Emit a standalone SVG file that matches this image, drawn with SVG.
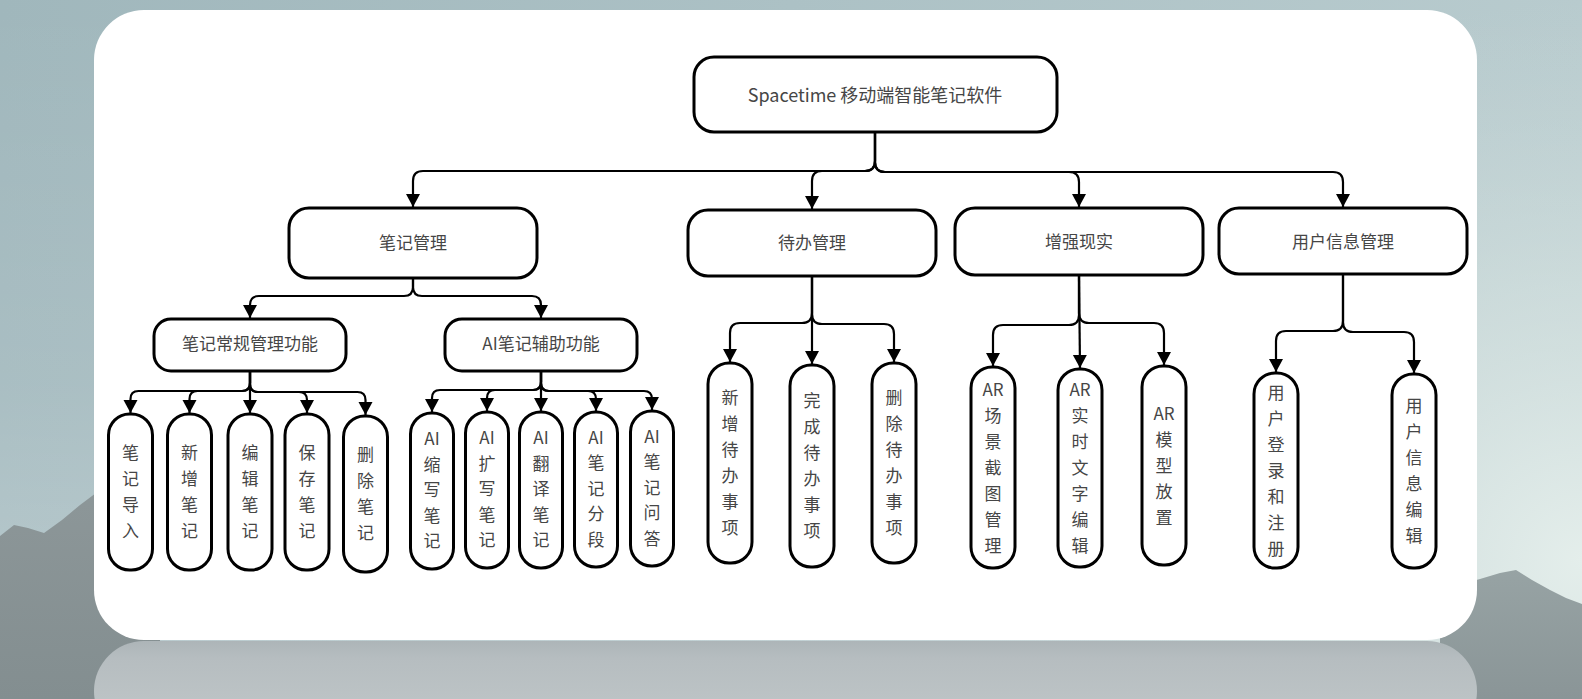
<svg xmlns="http://www.w3.org/2000/svg" width="1582" height="699" viewBox="0 0 1582 699">
<defs>
<linearGradient id="sky" x1="0" y1="0" x2="1582" y2="0" gradientUnits="userSpaceOnUse">
<stop offset="0" stop-color="#a0b7bc"/>
<stop offset="1" stop-color="#b8cbce"/>
</linearGradient>
<linearGradient id="skyV" x1="0" y1="0" x2="0" y2="699" gradientUnits="userSpaceOnUse">
<stop offset="0" stop-color="#ffffff" stop-opacity="0"/>
<stop offset="0.55" stop-color="#ffffff" stop-opacity="0.1"/>
<stop offset="1" stop-color="#ffffff" stop-opacity="0.3"/>
</linearGradient>
<radialGradient id="glow" cx="1582" cy="560" r="560" gradientUnits="userSpaceOnUse">
<stop offset="0" stop-color="#e4eeeb" stop-opacity="1"/>
<stop offset="0.5" stop-color="#d6e3e1" stop-opacity="0.6"/>
<stop offset="1" stop-color="#c8d8d8" stop-opacity="0"/>
</radialGradient>
<linearGradient id="mtnL" x1="0" y1="480" x2="0" y2="699" gradientUnits="userSpaceOnUse">
<stop offset="0" stop-color="#8d9799"/>
<stop offset="1" stop-color="#838e90"/>
</linearGradient>
<linearGradient id="mtnR" x1="0" y1="570" x2="0" y2="699" gradientUnits="userSpaceOnUse">
<stop offset="0" stop-color="#97a3a4"/>
<stop offset="1" stop-color="#8a9597"/>
</linearGradient>
<linearGradient id="refl" x1="0" y1="641" x2="0" y2="699" gradientUnits="userSpaceOnUse">
<stop offset="0" stop-color="#adb5b8"/>
<stop offset="0.3" stop-color="#b6bdc0"/>
<stop offset="1" stop-color="#bcc3c5"/>
</linearGradient>
<marker id="arr" markerUnits="userSpaceOnUse" markerWidth="15" markerHeight="15" viewBox="0 0 15 15" refX="13" refY="7.5" orient="auto">
<path d="M0,0.5 L13,7.5 L0,14.5 z" fill="#000"/>
</marker>
<style>
.box{fill:#fff;stroke:#000;stroke-width:3}
.edge{fill:none;stroke:#000;stroke-width:2.2;marker-end:url(#arr)}
.lbl{font-family:"Noto Sans CJK SC","Noto Sans",sans-serif;font-size:17px;fill:#464646;text-anchor:middle}
.root{font-size:18px}
</style>
</defs>

<g id="background">
<rect x="0" y="0" width="1582" height="699" fill="url(#sky)"/>
<rect x="0" y="0" width="1582" height="699" fill="url(#skyV)"/>
<rect x="0" y="0" width="1582" height="699" fill="url(#glow)"/>
<polygon points="0,536 14,525 28,528 44,533 62,520 80,505 100,490 160,510 160,699 0,699" fill="url(#mtnL)"/>
<polygon points="1440,590 1480,579 1500,573 1516,570 1532,580 1550,590 1566,598 1582,604 1582,699 1440,699" fill="url(#mtnR)"/>
<rect x="94" y="641" width="1383" height="100" rx="50" fill="url(#refl)"/>
<rect x="94" y="10" width="1383" height="630" rx="50" fill="#fff"/>
</g>

<g id="connectors">
<path class="edge" d="M875,132 V161 Q875,171 865,171 H423 Q413,171 413,181 V207"/>
<path class="edge" d="M875,132 V161 Q875,171 865,171 H822 Q812,171 812,181 V209"/>
<path class="edge" d="M875,132 V162 Q875,172 885,172 H1069 Q1079,172 1079,182 V207"/>
<path class="edge" d="M875,132 V162 Q875,172 885,172 H1333 Q1343,172 1343,182 V207"/>

<path class="edge" d="M413,278 V287 Q413,296 404,296 H259 Q250,296 250,305 V318"/>
<path class="edge" d="M413,278 V287 Q413,296 422,296 H532 Q541,296 541,305 V318"/>

<path class="edge" d="M250,371 V383 Q250,391 242,391 H138.5 Q130.5,391 130.5,399 V413"/>
<path class="edge" d="M250,371 V383 Q250,391 242,391 H197.5 Q189.5,391 189.5,399 V413"/>
<path class="edge" d="M250,371 V413"/>
<path class="edge" d="M250,371 V384 Q250,392 258,392 H299 Q307,392 307,400 V413"/>
<path class="edge" d="M250,371 V384 Q250,392 258,392 H357.5 Q365.5,392 365.5,400 V415"/>

<path class="edge" d="M541,371 V382 Q541,390 533,390 H440 Q432,390 432,398 V412"/>
<path class="edge" d="M541,371 V382 Q541,390 533,390 H495 Q487,390 487,398 V411"/>
<path class="edge" d="M541,371 V411"/>
<path class="edge" d="M541,371 V383 Q541,391 549,391 H588 Q596,391 596,399 V411"/>
<path class="edge" d="M541,371 V383 Q541,391 549,391 H644 Q652,391 652,399 V410"/>

<path class="edge" d="M812,276 V313 Q812,323 802,323 H740 Q730,323 730,333 V362"/>
<path class="edge" d="M812,276 V364"/>
<path class="edge" d="M812,276 V314 Q812,324 822,324 H884 Q894,324 894,334 V362"/>

<path class="edge" d="M1079,275 V315 Q1079,325 1069,325 H1003 Q993,325 993,335 V366"/>
<path class="edge" d="M1079,275 L1080,368"/>
<path class="edge" d="M1079,275 V313 Q1079,323 1089,323 H1154 Q1164,323 1164,333 V365"/>

<path class="edge" d="M1343,274 V321 Q1343,331 1333,331 H1286 Q1276,331 1276,341 V372"/>
<path class="edge" d="M1343,274 V322 Q1343,332 1353,332 H1404 Q1414,332 1414,342 V373"/>
</g>

<g id="root">
<rect class="box" x="694" y="57" width="363" height="75" rx="20"/>
<text class="lbl root" x="875" y="101.5">Spacetime 移动端智能笔记软件</text>
</g>

<g id="note-mgmt">
<rect class="box" x="289" y="208" width="248" height="70" rx="20"/>
<text class="lbl" x="413" y="249">笔记管理</text>
</g>
<g id="todo-mgmt">
<rect class="box" x="688" y="210" width="248" height="66" rx="20"/>
<text class="lbl" x="812" y="249">待办管理</text>
</g>
<g id="ar">
<rect class="box" x="955" y="208" width="248" height="67" rx="20"/>
<text class="lbl" x="1079" y="248">增强现实</text>
</g>
<g id="user-mgmt">
<rect class="box" x="1219" y="208" width="248" height="66" rx="20"/>
<text class="lbl" x="1343" y="248">用户信息管理</text>
</g>

<g id="note-basic">
<rect class="box" x="154" y="319" width="192" height="52" rx="17"/>
<text class="lbl" x="250" y="349.5">笔记常规管理功能</text>
</g>
<g id="note-ai">
<rect class="box" x="445" y="319" width="192" height="52" rx="17"/>
<text class="lbl" x="541" y="349.5">AI笔记辅助功能</text>
</g>

<g id="leaf-import">
<rect class="box" x="108.5" y="414" width="44" height="156" rx="21"/>
<text class="lbl" x="130.5" y="459"><tspan x="130.5">笔</tspan><tspan x="130.5" dy="26">记</tspan><tspan x="130.5" dy="26">导</tspan><tspan x="130.5" dy="26">入</tspan></text>
</g>
<g id="leaf-new">
<rect class="box" x="167.5" y="414" width="44" height="156" rx="21"/>
<text class="lbl" x="189.5" y="459"><tspan x="189.5">新</tspan><tspan x="189.5" dy="26">增</tspan><tspan x="189.5" dy="26">笔</tspan><tspan x="189.5" dy="26">记</tspan></text>
</g>
<g id="leaf-edit">
<rect class="box" x="228" y="414" width="44" height="156" rx="21"/>
<text class="lbl" x="250" y="459"><tspan x="250">编</tspan><tspan x="250" dy="26">辑</tspan><tspan x="250" dy="26">笔</tspan><tspan x="250" dy="26">记</tspan></text>
</g>
<g id="leaf-save">
<rect class="box" x="285" y="414" width="44" height="156" rx="21"/>
<text class="lbl" x="307" y="459"><tspan x="307">保</tspan><tspan x="307" dy="26">存</tspan><tspan x="307" dy="26">笔</tspan><tspan x="307" dy="26">记</tspan></text>
</g>
<g id="leaf-delete">
<rect class="box" x="343.5" y="416" width="44" height="156" rx="21"/>
<text class="lbl" x="365.5" y="461"><tspan x="365.5">删</tspan><tspan x="365.5" dy="26">除</tspan><tspan x="365.5" dy="26">笔</tspan><tspan x="365.5" dy="26">记</tspan></text>
</g>

<g id="leaf-ai-shrink">
<rect class="box" x="410.5" y="413" width="43" height="156" rx="21"/>
<text class="lbl" x="432" y="445"><tspan x="432">AI</tspan><tspan x="432" dy="25.5">缩</tspan><tspan x="432" dy="25.5">写</tspan><tspan x="432" dy="25.5">笔</tspan><tspan x="432" dy="25.5">记</tspan></text>
</g>
<g id="leaf-ai-expand">
<rect class="box" x="465.5" y="412" width="43" height="156" rx="21"/>
<text class="lbl" x="487" y="444"><tspan x="487">AI</tspan><tspan x="487" dy="25.5">扩</tspan><tspan x="487" dy="25.5">写</tspan><tspan x="487" dy="25.5">笔</tspan><tspan x="487" dy="25.5">记</tspan></text>
</g>
<g id="leaf-ai-translate">
<rect class="box" x="519.5" y="412" width="43" height="156" rx="21"/>
<text class="lbl" x="541" y="444"><tspan x="541">AI</tspan><tspan x="541" dy="25.5">翻</tspan><tspan x="541" dy="25.5">译</tspan><tspan x="541" dy="25.5">笔</tspan><tspan x="541" dy="25.5">记</tspan></text>
</g>
<g id="leaf-ai-segment">
<rect class="box" x="574.5" y="412" width="43" height="155" rx="21"/>
<text class="lbl" x="596" y="443.5"><tspan x="596">AI</tspan><tspan x="596" dy="25.5">笔</tspan><tspan x="596" dy="25.5">记</tspan><tspan x="596" dy="25.5">分</tspan><tspan x="596" dy="25.5">段</tspan></text>
</g>
<g id="leaf-ai-qa">
<rect class="box" x="630.5" y="411" width="43" height="155" rx="21"/>
<text class="lbl" x="652" y="442.5"><tspan x="652">AI</tspan><tspan x="652" dy="25.5">笔</tspan><tspan x="652" dy="25.5">记</tspan><tspan x="652" dy="25.5">问</tspan><tspan x="652" dy="25.5">答</tspan></text>
</g>

<g id="leaf-todo-new">
<rect class="box" x="708" y="363" width="44" height="200" rx="21"/>
<text class="lbl" x="730" y="404"><tspan x="730">新</tspan><tspan x="730" dy="26">增</tspan><tspan x="730" dy="26">待</tspan><tspan x="730" dy="26">办</tspan><tspan x="730" dy="26">事</tspan><tspan x="730" dy="26">项</tspan></text>
</g>
<g id="leaf-todo-done">
<rect class="box" x="790" y="365" width="44" height="202" rx="21"/>
<text class="lbl" x="812" y="407"><tspan x="812">完</tspan><tspan x="812" dy="26">成</tspan><tspan x="812" dy="26">待</tspan><tspan x="812" dy="26">办</tspan><tspan x="812" dy="26">事</tspan><tspan x="812" dy="26">项</tspan></text>
</g>
<g id="leaf-todo-delete">
<rect class="box" x="872" y="363" width="44" height="200" rx="21"/>
<text class="lbl" x="894" y="404"><tspan x="894">删</tspan><tspan x="894" dy="26">除</tspan><tspan x="894" dy="26">待</tspan><tspan x="894" dy="26">办</tspan><tspan x="894" dy="26">事</tspan><tspan x="894" dy="26">项</tspan></text>
</g>

<g id="leaf-ar-capture">
<rect class="box" x="971" y="367" width="44" height="201" rx="21"/>
<text class="lbl" x="993" y="395.5"><tspan x="993">AR</tspan><tspan x="993" dy="26">场</tspan><tspan x="993" dy="26">景</tspan><tspan x="993" dy="26">截</tspan><tspan x="993" dy="26">图</tspan><tspan x="993" dy="26">管</tspan><tspan x="993" dy="26">理</tspan></text>
</g>
<g id="leaf-ar-text">
<rect class="box" x="1058" y="369" width="44" height="198" rx="21"/>
<text class="lbl" x="1080" y="396"><tspan x="1080">AR</tspan><tspan x="1080" dy="26">实</tspan><tspan x="1080" dy="26">时</tspan><tspan x="1080" dy="26">文</tspan><tspan x="1080" dy="26">字</tspan><tspan x="1080" dy="26">编</tspan><tspan x="1080" dy="26">辑</tspan></text>
</g>
<g id="leaf-ar-model">
<rect class="box" x="1142" y="366" width="44" height="199" rx="21"/>
<text class="lbl" x="1164" y="419.5"><tspan x="1164">AR</tspan><tspan x="1164" dy="26">模</tspan><tspan x="1164" dy="26">型</tspan><tspan x="1164" dy="26">放</tspan><tspan x="1164" dy="26">置</tspan></text>
</g>

<g id="leaf-user-login">
<rect class="box" x="1254" y="373" width="44" height="195" rx="21"/>
<text class="lbl" x="1276" y="398.5"><tspan x="1276">用</tspan><tspan x="1276" dy="26">户</tspan><tspan x="1276" dy="26">登</tspan><tspan x="1276" dy="26">录</tspan><tspan x="1276" dy="26">和</tspan><tspan x="1276" dy="26">注</tspan><tspan x="1276" dy="26">册</tspan></text>
</g>
<g id="leaf-user-edit">
<rect class="box" x="1392" y="374" width="44" height="194" rx="21"/>
<text class="lbl" x="1414" y="412"><tspan x="1414">用</tspan><tspan x="1414" dy="26">户</tspan><tspan x="1414" dy="26">信</tspan><tspan x="1414" dy="26">息</tspan><tspan x="1414" dy="26">编</tspan><tspan x="1414" dy="26">辑</tspan></text>
</g>
</svg>
